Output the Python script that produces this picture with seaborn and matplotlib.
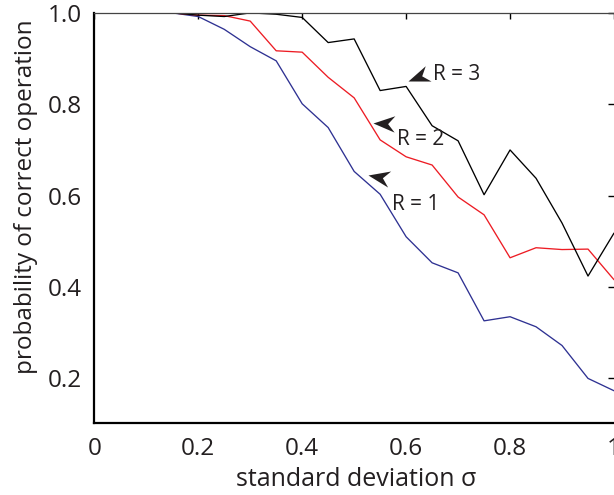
import matplotlib
matplotlib.use("Agg")
import matplotlib.pyplot as plt
from matplotlib.path import Path
import numpy as np
import pandas as pd
import seaborn as sns

# data
sigma = [0.10, 0.15, 0.20, 0.25, 0.30, 0.35, 0.40, 0.45, 0.50, 0.55,
         0.60, 0.65, 0.70, 0.75, 0.80, 0.85, 0.90, 0.95, 1.00]
p_r1 = [1.0, 1.0, 0.992, 0.964, 0.926, 0.895, 0.801, 0.749, 0.653, 0.603,
        0.510, 0.453, 0.431, 0.326, 0.335, 0.313, 0.272, 0.200, 0.173]
p_r2 = [1.0, 1.0, 0.995, 0.994, 0.982, 0.917, 0.914, 0.859, 0.814, 0.722,
        0.685, 0.667, 0.597, 0.558, 0.464, 0.486, 0.482, 0.483, 0.416]
p_r3 = [1.0, 1.0, 0.995, 0.992, 1.0, 0.997, 0.990, 0.935, 0.943, 0.830,
        0.839, 0.753, 0.720, 0.602, 0.700, 0.638, 0.540, 0.424, 0.518]

series = ["R = 1", "R = 2", "R = 3"]
colors = ["#2e3192", "#ed1c24", "#000000"]

xticks = [0, 0.2, 0.4, 0.6, 0.8, 1.0]
xticklabels = ["0", "0.2", "0.4", "0.6", "0.8", "1"]
yticks = [0.2, 0.4, 0.6, 0.8, 1.0]
yticklabels = ["0.2", "0.4", "0.6", "0.8", "1.0"]

# labels: arrow tip, arrow angle (deg, tip -> tail), text left/centre
label_tip = [(0.527, 0.645), (0.5365, 0.758), (0.603, 0.851)]
label_angle = [-10.8, -2.5, 20.7]
label_txt = [(0.573, 0.580), (0.582, 0.722), (0.651, 0.866)]

df = pd.DataFrame({
    "sigma": sigma * 3,
    "p": p_r1 + p_r2 + p_r3,
    "R": [s for s in series for _ in sigma],
})

sns.set_style("white")
plt.rcParams["font.family"] = ["Open Sans", "DejaVu Sans"]

fig = plt.figure(figsize=(6.14, 4.95), dpi=100)
ax = fig.add_axes([0.1536, 0.146, 0.8464, 0.828])

sns.lineplot(data=df, x="sigma", y="p", hue="R", palette=colors,
             linewidth=0.95, legend=False, ax=ax)

ax.set_xlim(0, 1.0)
ax.set_ylim(0.103, 1.0)
ax.set_xticks(xticks)
ax.set_xticklabels(xticklabels)
ax.set_yticks(yticks)
ax.set_yticklabels(yticklabels)

ax.tick_params(direction="in", length=4, width=1, colors="black",
               labelsize=17.5, top=True, right=True)
ax.tick_params(axis="x", pad=10)
ax.tick_params(axis="y", pad=9)
for lab in ax.get_xticklabels() + ax.get_yticklabels():
    lab.set_color("#231f20")

ax.set_xlabel("standard deviation σ", fontsize=18, color="#231f20")
ax.set_ylabel("probability of correct operation", fontsize=17.5,
              color="#231f20")
ax.xaxis.set_label_coords(0.504, -0.108)
ax.yaxis.set_label_coords(-0.108, 0.552)

for side in ["left", "bottom"]:
    ax.spines[side].set_linewidth(1.6)
    ax.spines[side].set_color("black")
ax.spines["top"].set_linewidth(0.9)
ax.spines["top"].set_color("#444444")
ax.spines["right"].set_visible(False)

# notched arrow head, tip at origin, pointing to -x
head = np.array([[0, 0], [1.0, 0.38], [0.68, 0], [1.0, -0.38], [0, 0]])
for name, tip, ang, txt in zip(series, label_tip, label_angle, label_txt):
    a = np.deg2rad(ang)
    rot = np.array([[np.cos(a), -np.sin(a)], [np.sin(a), np.cos(a)]])
    verts = head @ rot.T
    scale = np.max(np.abs(verts))
    marker = Path(verts, [Path.MOVETO, Path.LINETO, Path.LINETO,
                          Path.LINETO, Path.CLOSEPOLY])
    ax.plot(tip[0], tip[1], marker=marker, markersize=31.0 * scale,
            color="#231f20", markeredgewidth=0, linestyle="none")
    ax.text(txt[0], txt[1], name, fontsize=15, ha="left", va="center",
            color="#231f20")

fig.savefig("out.png", dpi=100)
